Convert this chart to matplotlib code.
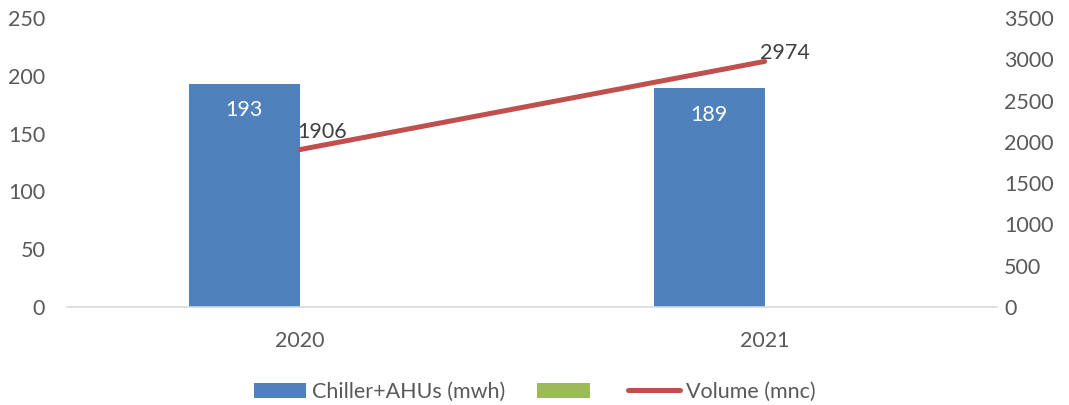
import matplotlib
matplotlib.use('Agg')
import matplotlib.pyplot as plt
from matplotlib.lines import Line2D
from matplotlib.patches import Patch

# datos
anios = ['2020', '2021']
chiller = [193, 189]          # Chiller+AHUs (mwh)
verde = [0, 0]                # serie sin nombre (vacía)
volumen = [1906, 2974]        # Volume (mnc)

azul = '#4F81BD'
verde_c = '#9BBB59'
rojo = '#C0504D'
gris = '#595959'
fs = 15.5

plt.rcParams['font.family'] = ['Lato', 'DejaVu Sans']
plt.rcParams['font.size'] = fs

fig = plt.figure(figsize=(10.69, 4.05), dpi=100)
ax = fig.add_axes([0.0631, 0.242, 0.8696, 0.7136])
ax2 = ax.twinx()

x = list(range(len(anios)))
ancho = 0.239
xb = [i - ancho / 2 for i in x]
xg = [i + ancho / 2 for i in x]

ax.bar(xb, chiller, width=ancho, color=azul, zorder=2)
ax.bar(xg, verde, width=ancho, color=verde_c, zorder=2)

for xi, v in zip(xb, chiller):
	ax.annotate(str(v), (xi, v), xytext=(0, -19), textcoords='offset points',
		ha='center', va='center', color='white', fontsize=fs)

ax2.plot(x, volumen, color=rojo, lw=3.6, solid_capstyle='round', zorder=3)
desplaz = [(-1.5, 8.5), (-3.5, 1.5)]  # posición de las etiquetas respecto al punto
for xi, v, d in zip(x, volumen, desplaz):
	ax2.annotate(str(v), (xi, v), xytext=d, textcoords='offset points',
		ha='left', va='baseline', color='#404040', fontsize=fs, zorder=4)

ax.set_xlim(-0.5, 1.5)
ax.set_ylim(0, 250)
ax.set_yticks(range(0, 251, 50))
ax2.set_ylim(0, 3500)
ax2.set_yticks(range(0, 3501, 500))
ax.set_xticks(x)
ax.set_xticklabels(anios)

for a in (ax, ax2):
	for s in ['top', 'left', 'right', 'bottom']:
		a.spines[s].set_visible(False)
ax.spines['bottom'].set_visible(True)
ax.spines['bottom'].set_color('#D9D9D9')
ax.spines['bottom'].set_linewidth(1.2)

ax.tick_params(axis='x', length=0, pad=17, colors=gris, labelsize=fs)
ax.tick_params(axis='y', length=0, pad=16, colors=gris, labelsize=fs)
ax2.tick_params(axis='y', length=0, pad=5, colors=gris, labelsize=fs)

handles = [Patch(facecolor=azul), Patch(facecolor=verde_c),
	Line2D([0], [0], color=rojo, lw=3.6, solid_capstyle='round')]
etiquetas = ['Chiller+AHUs (mwh)', '', 'Volume (mnc)']
fig.legend(handles, etiquetas, loc='center', bbox_to_anchor=(0.5, 0.032), ncol=3,
	frameon=False, fontsize=fs, labelcolor=gris, handlelength=2.45, handleheight=0.75,
	handletextpad=0.25, columnspacing=1.5)

plt.savefig('out.png', dpi=100)
